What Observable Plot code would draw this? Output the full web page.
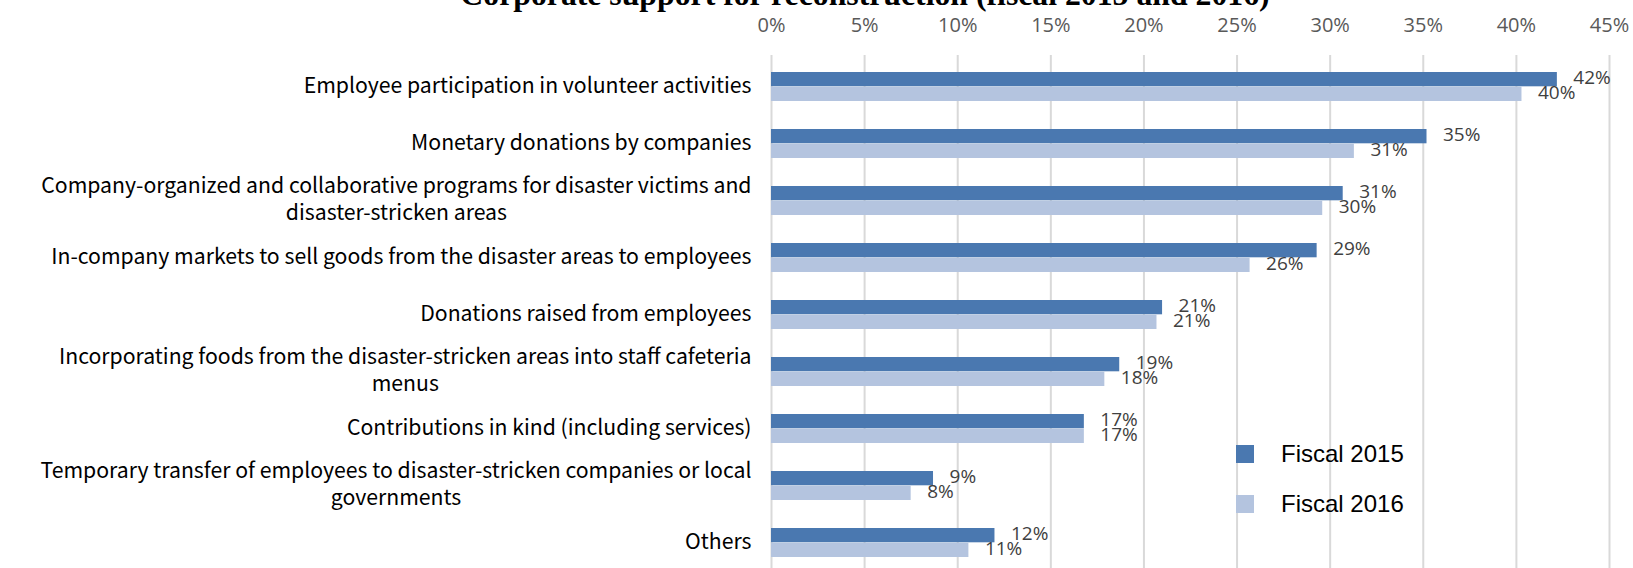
<!DOCTYPE html>
<html><head><meta charset="utf-8">
<script src="https://cdn.jsdelivr.net/npm/d3@7"></script>
<script src="https://cdn.jsdelivr.net/npm/@observablehq/plot@0.6"></script>
<style>
body{margin:0;background:#fff}
#wrap{position:relative;width:1633px;height:568px;overflow:hidden;background:#fff}
#wrap svg.plot{position:absolute;left:0;top:0}
.leg{position:absolute;left:1236px;height:30px;font-family:"Liberation Sans",Arial,sans-serif;font-size:24px;color:#000;display:flex;align-items:center}
.sw{width:18px;height:18px;margin-right:27px}
#title{position:absolute;left:0;top:0}
</style></head><body><div id="wrap"></div>
<script>
const titleText = "Corporate support for reconstruction (fiscal 2015 and 2016)";
const categories = [
  "Employee participation in volunteer activities",
  "Monetary donations by companies",
  "Company-organized and collaborative programs for disaster victims and\ndisaster-stricken areas",
  "In-company markets to sell goods from the disaster areas to employees",
  "Donations raised from employees",
  "Incorporating foods from the disaster-stricken areas into staff cafeteria\nmenus",
  "Contributions in kind (including services)",
  "Temporary transfer of employees to disaster-stricken companies or local\ngovernments",
  "Others"
];
const values2015 = [42.2, 35.2, 30.7, 29.3, 21.0, 18.7, 16.8, 8.7, 12.0];
const values2016 = [40.3, 31.3, 29.6, 25.7, 20.7, 17.9, 16.8, 7.5, 10.6];
const labels2015 = ["42%", "35%", "31%", "29%", "21%", "19%", "17%", "9%", "12%"];
const labels2016 = ["40%", "31%", "30%", "26%", "21%", "18%", "17%", "8%", "11%"];
const seriesNames = ["Fiscal 2015", "Fiscal 2016"];
const seriesColors = ["#4a78b0", "#b4c4df"];
const xTicks = [0, 5, 10, 15, 20, 25, 30, 35, 40, 45];

const d2015 = categories.map((c, i) => ({cat: c, v: values2015[i], label: labels2015[i]}));
const d2016 = categories.map((c, i) => ({cat: c, v: values2016[i], label: labels2016[i]}));

const ctx = document.createElement("canvas").getContext("2d");
function measure(text, font) { ctx.font = font; return ctx.measureText(text).width; }

const catFont = '"Noto Sans CJK JP", "Noto Sans", sans-serif';
const catSize = 20 * 448 / measure(categories[0], `20px ${catFont}`);
const gap = 20;

const catMarks = categories.map(c => {
  const w = d3.max(c.split("\n"), l => measure(l, `${catSize}px ${catFont}`));
  return Plot.text([c], {
    x: 0, y: d => d, text: d => d,
    textAnchor: "middle", dx: -(gap + w / 2), dy: -3,
    fontSize: catSize, fontFamily: catFont, fill: "#000",
    lineHeight: 27 / catSize
  });
});

const plot = Plot.plot({
  width: 1633, height: 568,
  marginLeft: 771, marginRight: 24, marginTop: 55, marginBottom: 0,
  style: {fontFamily: '"Open Sans", sans-serif', color: "#595959", background: "transparent"},
  x: {domain: [0, 45]},
  y: {domain: categories, range: [55.2, 573.8], paddingInner: 0.49, paddingOuter: 0.245, axis: null},
  marks: [
    Plot.ruleX(xTicks, {stroke: "#d9d9d9", strokeWidth: 2}),
    Plot.axisX({anchor: "top", label: null, ticks: xTicks, tickFormat: d => d + "%", tickSize: 0, tickPadding: 24, fontSize: 20, fill: "#595959"}),
    Plot.barX(d2015, {y: "cat", x: "v", fill: seriesColors[0], insetBottom: 14.7}),
    Plot.barX(d2016, {y: "cat", x: "v", fill: seriesColors[1], insetTop: 14.7}),
    Plot.text(d2015, {y: "cat", x: "v", text: "label", textAnchor: "start", dx: 16, dy: -9.5, fontSize: 19, fill: "#404040"}),
    Plot.text(d2016, {y: "cat", x: "v", text: "label", textAnchor: "start", dx: 16, dy: 5.5, fontSize: 19, fill: "#404040"}),
    ...catMarks
  ]
});
plot.classList.add("plot");
const wrap = document.getElementById("wrap");
wrap.appendChild(plot);

// title (clipped at top as in reference)
const tFont = '"Liberation Serif", "DejaVu Serif", serif';
const tSize = 30 * 810 / measure(titleText, `bold 30px ${tFont}`);
const tsvg = d3.create("svg").attr("id", "title").attr("width", 1633).attr("height", 40);
tsvg.append("text").attr("x", 865).attr("y", 4.5).attr("text-anchor", "middle")
  .attr("font-family", tFont).attr("font-weight", "bold").attr("font-size", tSize).attr("fill", "#000")
  .text(titleText);
wrap.appendChild(tsvg.node());

// legend
seriesNames.forEach((name, i) => {
  const row = document.createElement("div");
  row.className = "leg";
  row.style.top = (439 + i * 50) + "px";
  const sw = document.createElement("div");
  sw.className = "sw"; sw.style.background = seriesColors[i];
  row.appendChild(sw);
  row.appendChild(document.createTextNode(name));
  wrap.appendChild(row);
});
</script></body></html>
